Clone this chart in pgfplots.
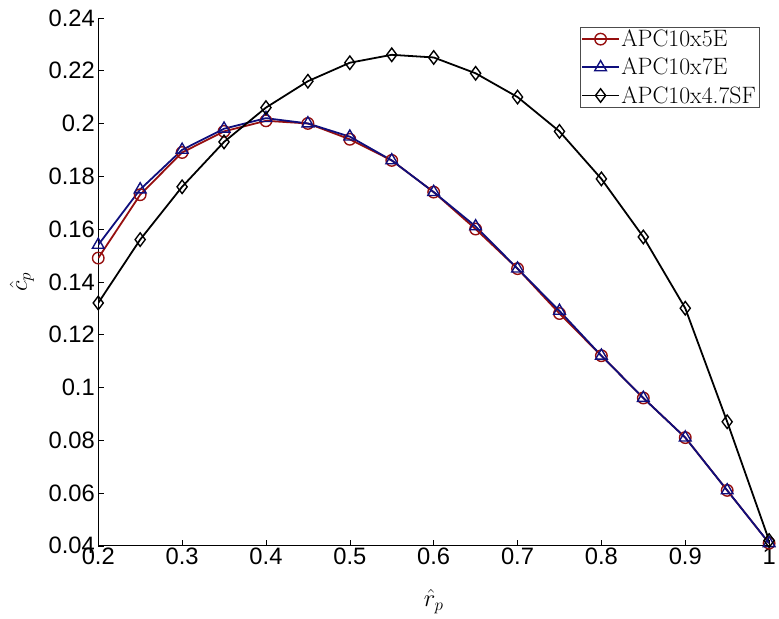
\documentclass[border=0pt]{standalone}
\usepackage{pgfplots}
\pgfplotsset{compat=1.18}
\usepackage{fontspec}
\newfontfamily\ticksf{Liberation Sans}
\definecolor{dred}{RGB}{150,15,15}
\definecolor{dblue}{RGB}{15,15,125}
\begin{document}
\begin{tikzpicture}
\begin{axis}[
  scale only axis,
  width=676bp, height=532bp,
  xmin=0.2, xmax=1, ymin=0.04, ymax=0.24,
  axis x line*=bottom, axis y line*=left,
  axis line style={-, thick},
  tick align=inside,
  major tick length=6bp,
  tick style={black, thin},
  xtick={0.2,0.3,...,1.0},
  ytick={0.04,0.06,...,0.241},
  /pgf/number format/.cd, fixed, precision=2, assume math mode=true,
  /pgfplots/.cd,
  tick label style={font=\ticksf\fontsize{24}{24}\selectfont},
  xticklabel style={yshift=1bp},
  xlabel={$\hat{r}_p$},
  ylabel={$\hat{c}_p$},
  label style={font=\fontsize{25}{25}\selectfont},
  xlabel style={at={(rel axis cs:0.5,0)}, anchor=center, yshift=-56bp},
  ylabel style={at={(rel axis cs:0,0.5)}, anchor=center, yshift=77bp},
  legend style={at={(rel axis cs:0.985,0.983)}, anchor=north east,
    draw=black!70, thin, font=\fontsize{24}{28}\selectfont,
    inner sep=1.5bp, row sep=7bp, legend cell align=left,
    nodes={inner sep=1.5bp}},
  legend image code/.code={
    \draw[mark repeat=2,mark phase=2] plot coordinates {(0cm,0cm) (0.65cm,0cm) (1.3cm,0cm)};},
  after end axis/.code={
    \path (rel axis cs:0,0) ++(-99bp,-73bp);
    \path (rel axis cs:0,1) ++(0,18bp);},
]
\addplot[dred, line width=1.8bp, mark=o, mark size=5.8bp, mark options={line width=1.4bp}] coordinates {
(0.20,0.149)(0.25,0.173)(0.30,0.189)(0.35,0.197)(0.40,0.201)(0.45,0.200)(0.50,0.194)(0.55,0.186)(0.60,0.174)(0.65,0.160)(0.70,0.145)(0.75,0.128)(0.80,0.112)(0.85,0.096)(0.90,0.081)(0.95,0.061)(1.00,0.041)};
\addlegendentry{APC10x5E}
\addplot[dblue, line width=1.8bp, mark=triangle, mark size=6.8bp, mark options={line width=1.4bp}] coordinates {
(0.20,0.154)(0.25,0.175)(0.30,0.190)(0.35,0.198)(0.40,0.202)(0.45,0.200)(0.50,0.195)(0.55,0.186)(0.60,0.174)(0.65,0.161)(0.70,0.145)(0.75,0.129)(0.80,0.112)(0.85,0.096)(0.90,0.081)(0.95,0.061)(1.00,0.041)};
\addlegendentry{APC10x7E}
\addplot[black, line width=1.8bp, mark=diamond, mark size=6.8bp, mark options={line width=1.4bp}] coordinates {
(0.20,0.132)(0.25,0.156)(0.30,0.176)(0.35,0.193)(0.40,0.206)(0.45,0.216)(0.50,0.223)(0.55,0.226)(0.60,0.225)(0.65,0.219)(0.70,0.210)(0.75,0.197)(0.80,0.179)(0.85,0.157)(0.90,0.130)(0.95,0.087)(1.00,0.042)};
\addlegendentry{APC10x4.7SF}
\end{axis}
\end{tikzpicture}
\end{document}
